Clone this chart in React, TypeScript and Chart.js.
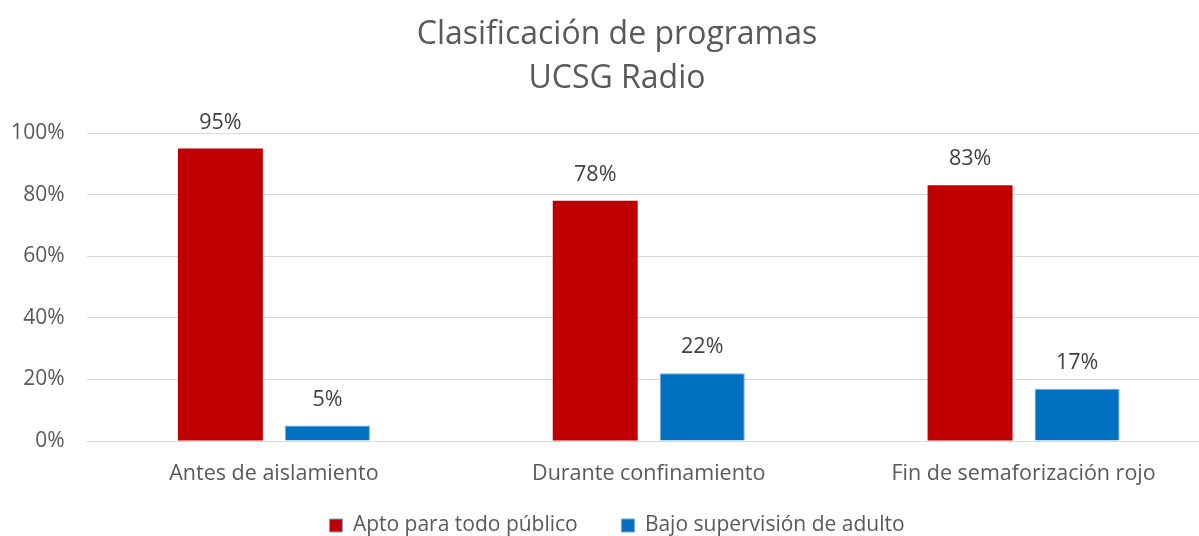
import React, { useEffect, useRef } from "react";
import { Chart, registerables } from "chart.js";

Chart.register(...registerables);

const categories = ["Antes de aislamiento", "Durante confinamiento", "Fin de semaforización rojo"];
const aptoValues = [0.95, 0.78, 0.83];
const bajoValues = [0.05, 0.22, 0.17];
const seriesNames = ["Apto para todo público", "Bajo supervisión de adulto"];
const titleLines = ["Clasificación de programas", "UCSG Radio"];

const FONT = "'Open Sans', sans-serif";
const TEXT = "#595959";
const CHART_W = 1234;
const CHART_H = 546;

const dataLabelPlugin = {
  id: "dataLabels",
  afterDatasetsDraw(chart: any) {
    const ctx = chart.ctx;
    ctx.save();
    ctx.font = `21.5px ${FONT}`;
    ctx.fillStyle = "#404040";
    ctx.textAlign = "center";
    ctx.textBaseline = "middle";
    chart.data.datasets.forEach((ds: any, i: number) => {
      const meta = chart.getDatasetMeta(i);
      meta.data.forEach((bar: any, j: number) => {
        const v = ds.data[j];
        ctx.fillText(Math.round(v * 100) + "%", bar.x, bar.y - 26);
      });
    });
    ctx.restore();
  },
};

export default function App() {
  const ref = useRef<HTMLCanvasElement>(null);
  useEffect(() => {
    document.body.style.margin = "0";
    const chart = new Chart(ref.current!, {
      type: "bar",
      data: {
        labels: categories,
        datasets: [
          {
            label: seriesNames[0],
            data: aptoValues,
            backgroundColor: "#C00000",
            borderColor: "#C00000",
            borderWidth: 0,
          },
          {
            label: seriesNames[1],
            data: bajoValues,
            backgroundColor: "#0070C0",
            borderColor: "#6FA8DC",
            borderWidth: 1,
          },
        ],
      },
      options: {
        animation: false,
        responsive: false,
        maintainAspectRatio: false,
        datasets: { bar: { categoryPercentage: 0.571, barPercentage: 0.794 } },
        layout: { padding: { left: 0, right: 0, top: 0, bottom: 0 } },
        plugins: {
          title: {
            display: true,
            text: titleLines,
            color: TEXT,
            font: { family: FONT, size: 32, weight: "normal", lineHeight: 1.375 },
            padding: { top: 13, bottom: 32 },
          },
          legend: {
            position: "bottom",
            labels: {
              color: TEXT,
              font: { family: FONT, size: 21 },
              boxWidth: 13,
              boxHeight: 13,
              padding: 0,
              generateLabels: (chart: any) =>
                chart.data.datasets.map((ds: any, i: number) => ({
                  text: i === 0 ? ds.label + "        " : ds.label,
                  fillStyle: ds.backgroundColor,
                  strokeStyle: "#6FA8DC",
                  lineWidth: 1,
                  hidden: false,
                  datasetIndex: i,
                  fontColor: TEXT,
                })),
            },
          },
          tooltip: { enabled: false },
        },
        scales: {
          x: {
            grid: { display: false },
            border: { display: true, color: "#D9D9D9", width: 1 },
            ticks: { color: TEXT, font: { family: FONT, size: 21.5 }, padding: 12 },
            afterFit: (scale: any) => {
              const lh = scale.chart.legend ? scale.chart.legend.height : 30;
              scale.height = CHART_H - 441 - lh;
            },
          },
          y: {
            min: 0,
            max: 1,
            afterFit: (scale: any) => {
              scale.width = 86.5;
            },
            grid: { color: "#D9D9D9", lineWidth: 1, drawTicks: false },
            border: { display: false },
            ticks: {
              stepSize: 0.2,
              color: TEXT,
              padding: 22,
              font: { family: FONT, size: 21 },
              callback: (v: any) => Math.round(Number(v) * 100) + "%",
            },
          },
          yRightSpacer: {
            position: "right",
            display: true,
            grid: { display: false },
            border: { display: false },
            ticks: { display: false },
            afterFit: (scale: any) => {
              scale.width = 23;
            },
          },
        },
      },
      plugins: [dataLabelPlugin],
    });
    return () => chart.destroy();
  }, []);
  return (
    <div style={{ width: 1199, height: 536, overflow: "hidden" }}>
      <canvas ref={ref} width={CHART_W} height={CHART_H} style={{ display: "block" }} />
    </div>
  );
}
